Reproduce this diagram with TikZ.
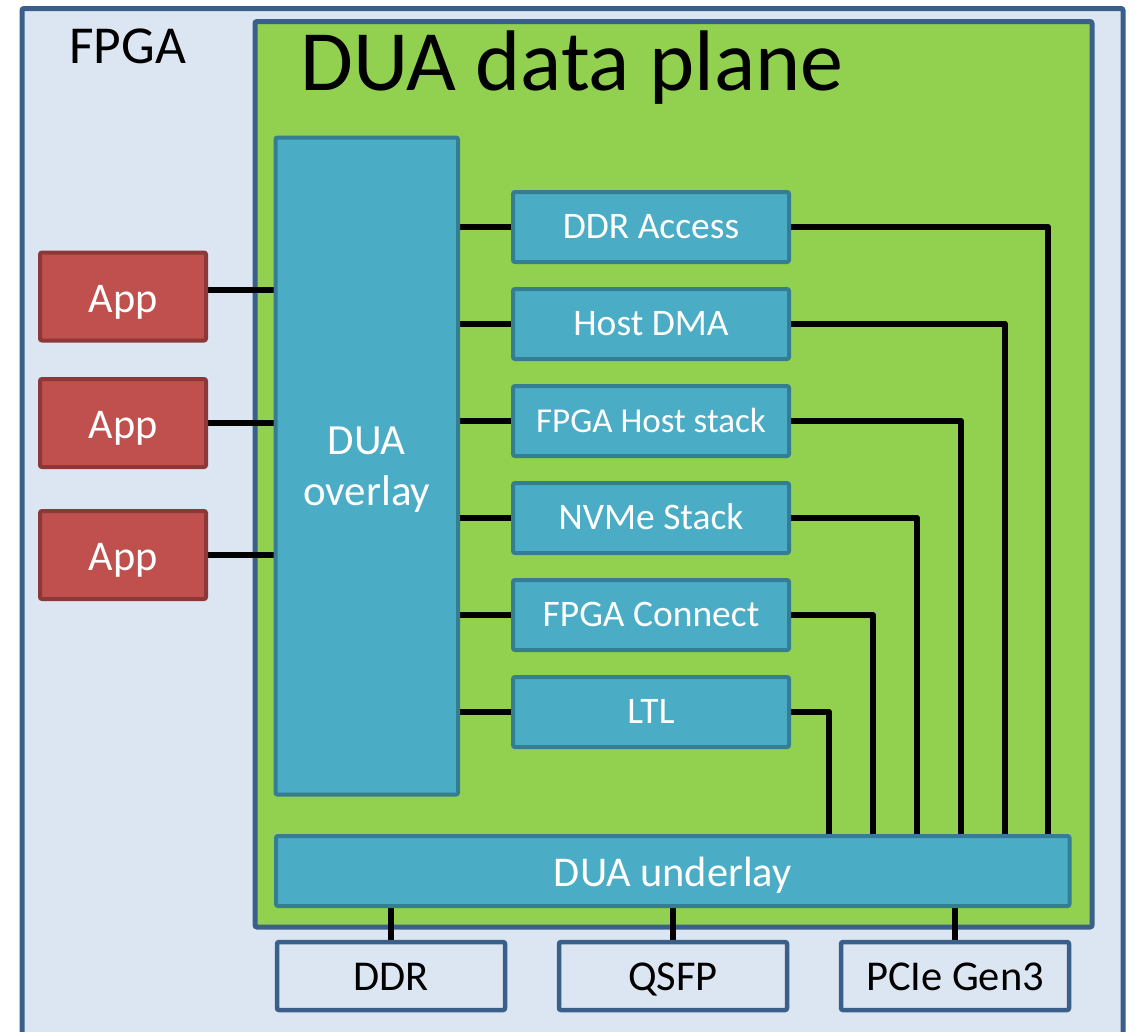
\documentclass[tikz,border=0pt]{standalone}
\usepackage{fontspec}
\setmainfont{Carlito}

\definecolor{fpgafill}{HTML}{DCE6F2}
\definecolor{fpgaline}{HTML}{3A5F8B}
\definecolor{planefill}{HTML}{92D050}
\definecolor{bluefill}{HTML}{4BACC6}
\definecolor{blueline}{HTML}{357D91}
\definecolor{appfill}{HTML}{C0504D}
\definecolor{appline}{HTML}{8C3836}

\pgfdeclarelayer{bg}
\pgfdeclarelayer{wires}
\pgfsetlayers{bg,wires,main}

\tikzset{
  box/.style={draw, line width=4pt, rounded corners=2pt, outer sep=0pt, inner sep=0pt},
  blk/.style={box, draw=blueline, fill=bluefill, text=white},
  appbox/.style={box, draw=appline, fill=appfill, text=white,
    minimum width=166pt, minimum height=88pt, text height=31pt, text depth=0pt,
    font=\fontsize{42.3}{50}\selectfont},
  sidebox/.style={blk, minimum width=276pt, minimum height=70pt,
    text height=23pt, text depth=0pt, font=\fontsize{37.5}{45}\selectfont},
  portbox/.style={box, line width=4.5pt, draw=fpgaline, fill=fpgafill, text=black,
    minimum width=228pt, minimum height=68pt, text height=29pt, text depth=0pt,
    font=\fontsize{42.5}{50}\selectfont},
  wire/.style={line width=6pt, black, line join=round},
}

\begin{document}
\begin{tikzpicture}[x=1pt, y=-1pt]
  \useasboundingbox (0,0) rectangle (1134,1031);
  \clip (0,0) rectangle (1134,1031);

  \begin{pgfonlayer}{bg}
    \fill[white] (0,0) rectangle (1134,1031);
    % FPGA outline (runs past the lower edge)
    \draw[fpgaline, fill=fpgafill, line width=5pt, rounded corners=2pt]
      (22,8.5) rectangle (1123,1080);
    % data plane region
    \draw[fpgaline, fill=planefill, line width=5pt, rounded corners=2pt]
      (255,21.5) rectangle (1092,927);
  \end{pgfonlayer}

  \node[anchor=base west, inner sep=0pt, font=\fontsize{53.4}{62}\selectfont]
    (fpgalabel) at (69,63) {FPGA};
  \node[anchor=base west, inner sep=0pt, font=\fontsize{86}{98}\selectfont]
    (title) at (300,90) {DUA data plane};

  % blocks
  \node[blk, minimum width=182.5pt, minimum height=657pt, align=center,
        text depth=0pt, font=\fontsize{43}{50.5}\selectfont]
        (ov) at (366.75,466) {DUA\\overlay};
  \node[appbox] (app1) at (123,296.5) {App};
  \node[appbox] (app2) at (123,423) {App};
  \node[appbox] (app3) at (123,555) {App};
  \node[sidebox] (s1) at (651,227) {DDR Access};
  \node[sidebox] (s2) at (651,324) {Host DMA};
  \node[sidebox, font=\fontsize{35}{43}\selectfont] (s3) at (651,421) {FPGA Host stack};
  \node[sidebox] (s4) at (651,518) {NVMe Stack};
  \node[sidebox] (s5) at (651,615) {FPGA Connect};
  \node[sidebox] (s6) at (651,712) {LTL};
  \node[blk, minimum width=793.5pt, minimum height=70pt, text height=30pt,
        text depth=0pt, font=\fontsize{42.4}{50}\selectfont]
        (ul) at (672.75,871) {DUA underlay};
  \node[portbox] (ddr) at (391,976) {DDR};
  \node[portbox] (qsfp) at (673,976) {QSFP};
  \node[portbox] (pcie) at (955,976) {PCIe Gen3};

  % wires, kept under the blocks
  \begin{pgfonlayer}{wires}
    \coordinate (a1) at ([yshift=6.5pt]app1.east);
    \draw[wire] (a1) -- (a1 -| ov.west);
    \draw[wire] (app2.east) -- (app2.east -| ov.west);
    \draw[wire] (app3.east) -- (app3.east -| ov.west);

    \foreach \s in {s1,s2,s3,s4,s5,s6}
      \draw[wire] (ov.east |- \s.west) -- (\s.west);

    \coordinate (v1) at (1048,0);
    \coordinate (v2) at (1005,0);
    \coordinate (v3) at (961,0);
    \coordinate (v4) at (917,0);
    \coordinate (v5) at (873,0);
    \coordinate (v6) at (829,0);
    \foreach \i in {1,...,6}
      \draw[wire] (s\i.east) -| (v\i |- ul.north);

    \draw[wire] (ul.south -| ddr.north) -- (ddr.north);
    \draw[wire] (ul.south -| qsfp.north) -- (qsfp.north);
    \draw[wire] (ul.south -| pcie.north) -- (pcie.north);
  \end{pgfonlayer}
\end{tikzpicture}
\end{document}
